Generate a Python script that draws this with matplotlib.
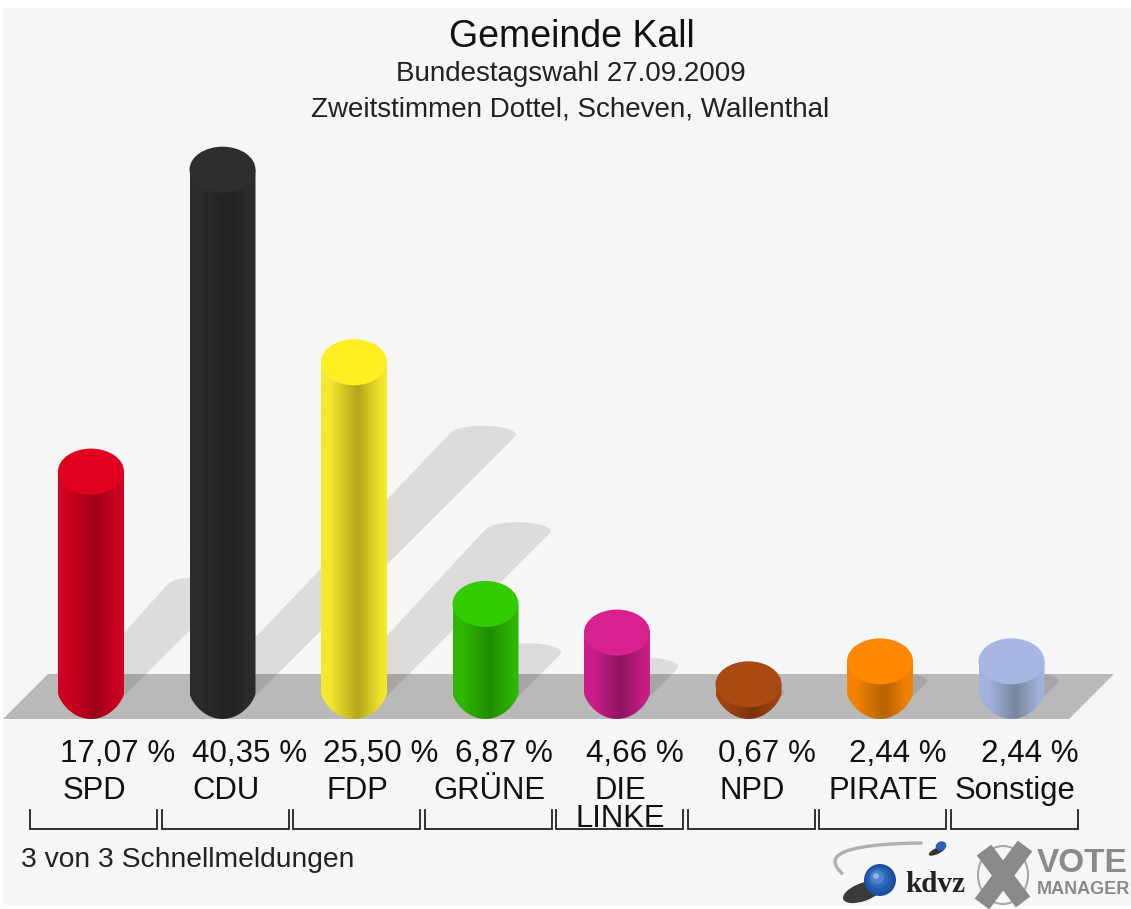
import numpy as np
import matplotlib
matplotlib.use('Agg')
import matplotlib.pyplot as plt
from matplotlib.colors import to_rgb
from matplotlib.patches import Ellipse, Polygon, PathPatch, Rectangle, Circle
from matplotlib.path import Path

plt.rcParams['font.family'] = ['Liberation Sans', 'DejaVu Sans']

# Daten
parties = ['SPD', 'CDU', 'FDP', 'GRÜNE', 'DIE\nLINKE', 'NPD', 'PIRATE', 'Sonstige']
values = [17.07, 40.35, 25.50, 6.87, 4.66, 0.67, 2.44, 2.44]
value_labels = ['17,07 %', '40,35 %', '25,50 %', '6,87 %', '4,66 %', '0,67 %', '2,44 %', '2,44 %']

# Farben: Deckel, Rand, Mitte
top_colors = ['#e0001f', '#2e2e2e', '#ffee22', '#33cc00', '#d8218f', '#a84a12', '#ff8800', '#a8b7e2']
edge_colors = ['#d00020', '#2c2c2c', '#f6e92e', '#2fb800', '#cc1d88', '#a04510', '#f58300', '#a3b3dd']
mid_colors = ['#9c0018', '#222222', '#b5a51c', '#1f8c00', '#8c1560', '#7a330a', '#b56300', '#78869f']

W, H = 1131, 909
STEP = 131.5          # Pixel pro Partei
X0 = 91               # Mitte erste Saeule
PX_PER_PCT = 12.97
Y0 = 693              # Pixel fuer 0 %
R = 33 / STEP         # halbe Saeulenbreite
B_TOP = 23 / PX_PER_PCT
B_BOT = 26 / PX_PER_PCT

fig = plt.figure(figsize=(W / 100, H / 100), dpi=100, facecolor='white')

# Pixel-Achse fuer Hintergrund, Texte und Logos
px = fig.add_axes([0, 0, 1, 1], zorder=0)
px.set_xlim(0, W)
px.set_ylim(H, 0)
px.axis('off')

# Daten-Achse fuer die Saeulen
ax = fig.add_axes([0, 0, 1, 1], zorder=1)
ax.patch.set_alpha(0)
ax.axis('off')
ax.set_xlim((0 - X0) / STEP, (W - X0) / STEP)
ax.set_ylim((Y0 - H) / PX_PER_PCT, Y0 / PX_PER_PCT)
ax.set_autoscale_on(False)

# Hintergrund und Boden
px.add_patch(Rectangle((3, 8), W - 3, 897, facecolor='#f6f6f6', edgecolor='none'))
px.add_patch(Polygon([(3, 719), (1069, 719), (1114, 674), (48, 674)], facecolor='#b9b9b9', edgecolor='none'))


# Schatten nach rechts oben
def draw_shadow(i, v):
    d = 6.5 * v
    a, b = 33.0, 9.0
    t1 = np.arctan2(-b, a)
    t_tip = np.linspace(t1, t1 + np.pi, 40)
    # der Fuss bleibt hinter der Saeule
    xs = np.concatenate([[-24, 28], d - 2 + a * np.cos(t_tip)])
    ys = np.concatenate([[-4, -8], d - 4 + b * np.sin(t_tip)])
    ax.add_patch(Polygon(np.column_stack([xs / STEP + i, ys / PX_PER_PCT]), facecolor='black', alpha=0.1,
                         edgecolor='none', zorder=1))


# Zylinder mit Verlauf
def draw_cylinder(i, v):
    t = np.linspace(np.pi, 2 * np.pi, 40)
    xs = np.concatenate([[i - R], i + R * np.cos(t), [i + R]])
    ys = np.concatenate([[v], -B_BOT * np.abs(np.sin(t)) ** 1.4, [v]])
    verts = np.column_stack([xs, ys])
    path = Path(np.vstack([verts, verts[0]]), closed=True)
    body = PathPatch(path, facecolor='none', edgecolor='none', transform=ax.transData)
    ax.add_patch(body)

    e, m = np.array(to_rgb(edge_colors[i])), np.array(to_rgb(mid_colors[i]))
    pos = np.linspace(0, 1, 64)
    w = np.interp(pos, [0, 0.15, 0.56, 0.9, 1], [0.0, 0.05, 1, 0.1, 0.0])[None, :, None]
    img = e[None, None, :] * (1 - w) + m[None, None, :] * w
    im = ax.imshow(img, extent=[i - R, i + R, -B_BOT, v], aspect='auto', zorder=2, interpolation='bilinear')
    im.set_clip_path(body)

    ax.add_patch(Ellipse((i, v), 2 * R, 2 * B_TOP, facecolor=top_colors[i], edgecolor='none', zorder=3))


for i, v in enumerate(values):
    draw_shadow(i, v)
for i, v in enumerate(values):
    draw_cylinder(i, v)

# Titel
px.text(572, 37, 'Gemeinde Kall', fontsize=27, ha='center', va='center', color='#111111')
px.text(571, 74, 'Bundestagswahl 27.09.2009', fontsize=20, ha='center', va='center', color='#222222')
px.text(570, 109, 'Zweitstimmen Dottel, Scheven, Wallenthal', fontsize=20, ha='center', va='center', color='#222222')

# Prozentwerte und Parteinamen
for i, lab in enumerate(value_labels):
    ax.text(i - 0.235, (Y0 - 754) / PX_PER_PCT, lab, fontsize=22.6, ha='left', va='center', color='#111111', zorder=5)

for i, name in enumerate(parties):
    xc = 93.5 + STEP * i
    parts = name.split('\n')
    px.text(xc + 1, 791, parts[0], fontsize=22.4, ha='center', va='center', color='#111111')
    if len(parts) > 1:
        px.text(xc + 1, 819, parts[1], fontsize=22.4, ha='center', va='center', color='#111111')
    # Klammer
    px.plot([xc - 63.5, xc - 63.5, xc + 63.5, xc + 63.5], [810, 829, 829, 810], color='#222222', lw=1.3,
            solid_joinstyle='miter')

px.text(21, 860, '3 von 3 Schnellmeldungen', fontsize=20.3, ha='left', va='center', color='#222222')

# Logo kdvz
s = np.linspace(0.05, 1, 40)
px.plot(930 - 95 * np.sin(s * np.pi * 0.62), 843 + 30 * s ** 2.2, color='#b0b0b0', lw=2.4)
px.add_patch(Ellipse((863, 892), 42, 18, angle=-20, facecolor='#3a3a3a', edgecolor='none'))
for r, c in zip([16, 13, 10, 7, 3], ['#1d4f9c', '#2459ac', '#2e68bc', '#4a82cc', '#8fb2e2']):
    px.add_patch(Circle((880 - (16 - r) * 0.3, 880 - (16 - r) * 0.3), r, facecolor=c, edgecolor='none'))
px.add_patch(Ellipse((937, 851), 18, 6, angle=-25, facecolor='#333333', edgecolor='none'))
px.add_patch(Ellipse((941, 846), 11, 9, angle=-25, facecolor='#2a62b8', edgecolor='none'))
px.text(935, 884, 'kdvz', fontsize=21, fontweight='bold', family='Liberation Serif', ha='center', va='center', color='#222222')

# Logo Vote Manager
px.add_patch(Ellipse((1003, 875), 50, 58, facecolor='none', edgecolor='#a8a8a8', lw=1.5))
px.plot([984, 1023], [850, 902], color='#8a8a8a', lw=13, solid_capstyle='butt')
px.plot([1025, 982], [846, 904], color='#8a8a8a', lw=13, solid_capstyle='butt')
px.text(1037, 864, 'VOTE', fontsize=24, fontweight='bold', ha='left', va='center', color='#8a8a8a')
px.text(1037, 890, 'MANAGER', fontsize=13, fontweight='bold', ha='left', va='center', color='#8a8a8a')

fig.savefig('out.png', dpi=100)
